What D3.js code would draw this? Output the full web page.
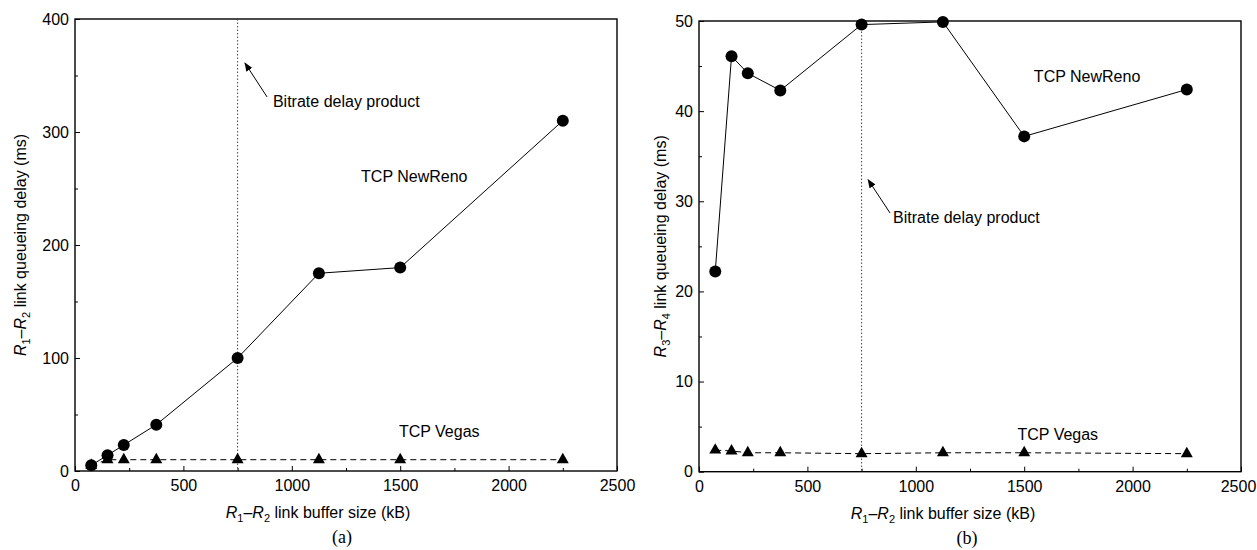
<!DOCTYPE html>
<html>
<head>
<meta charset="utf-8">
<script src="https://cdn.jsdelivr.net/npm/d3@7"></script>
<style>
  body { margin: 0; background: white; }
  text { font-family: "Liberation Sans", Arial, sans-serif; }
</style>
</head>
<body>
<script>

// buffer sizes (kB) used in both panels
var bufferSizes = [75, 150, 225, 375, 750, 1125, 1500, 2250];
var bitrateDelayProduct = 750;

// panel (a): R1-R2 link queueing delay (ms)
var renoA = [5, 14, 23, 41, 100, 175, 180, 310];
var vegasA = [5, 10, 10, 10, 10, 10, 10, 10];

// panel (b): R3-R4 link queueing delay (ms)
var renoB = [22.2, 46.1, 44.2, 42.3, 49.6, 49.9, 37.2, 42.4];
var vegasB = [2.4, 2.3, 2.1, 2.1, 2.0, 2.1, 2.1, 2.0];

var xTicks = [0, 500, 1000, 1500, 2000, 2500];
var yTicksA = [0, 100, 200, 300, 400];
var yTicksB = [0, 10, 20, 30, 40, 50];

var svg = d3.select("body").append("svg")
    .attr("width", 1257)
    .attr("height", 550);

var defs = svg.append("defs");
defs.append("marker")
    .attr("id", "arrow")
    .attr("viewBox", "0 0 10 10")
    .attr("refX", 9).attr("refY", 5)
    .attr("markerWidth", 9).attr("markerHeight", 9)
    .attr("markerUnits", "userSpaceOnUse")
    .attr("orient", "auto")
  .append("path")
    .attr("d", "M0,1 L10,5 L0,9 Z")
    .attr("fill", "black");

function drawPanel(p) {

  var x = d3.scaleLinear().domain([0, 2500]).range([p.left, p.right]);
  var y = d3.scaleLinear().domain([0, p.yMax]).range([p.bottom, p.top]);

  var g = svg.append("g");

  // frame
  g.append("rect")
      .attr("x", p.left).attr("y", p.top)
      .attr("width", p.right - p.left).attr("height", p.bottom - p.top)
      .attr("fill", "none").attr("stroke", "black").attr("stroke-width", 1.4);

  // minor ticks
  g.append("g")
      .attr("transform", "translate(0," + p.bottom + ")")
      .call(d3.axisBottom(x).tickValues(d3.range(250, 2500, 500)).tickSize(-3).tickFormat(""))
      .call(function(s){ s.select(".domain").remove(); });
  g.append("g")
      .attr("transform", "translate(" + p.left + ",0)")
      .call(d3.axisLeft(y).tickValues(d3.range(p.yStep / 2, p.yMax, p.yStep)).tickSize(-3).tickFormat(""))
      .call(function(s){ s.select(".domain").remove(); });

  // major ticks
  var xAxis = g.append("g")
      .attr("transform", "translate(0," + p.bottom + ")")
      .call(d3.axisBottom(x).tickValues(xTicks).tickFormat(d3.format("d"))
        .tickSizeInner(-5).tickSizeOuter(0).tickPadding(9));
  var yAxis = g.append("g")
      .attr("transform", "translate(" + p.left + ",0)")
      .call(d3.axisLeft(y).tickValues(p.yTicks).tickFormat(d3.format("d"))
        .tickSizeInner(-5).tickSizeOuter(0).tickPadding(6));

  [xAxis, yAxis].forEach(function(a){
    a.select(".domain").remove();
    a.selectAll("text").style("font-size", "16px").style("font-family", "Liberation Sans, Arial, sans-serif").attr("fill", "black");
  });
  g.selectAll(".tick line").attr("stroke", "black");
  // last x label sits at the page edge
  xAxis.selectAll(".tick text").filter(function(d){ return d === 2500; }).attr("dx", p.lastDx);

  // bitrate delay product line
  g.append("line")
      .attr("x1", x(bitrateDelayProduct)).attr("x2", x(bitrateDelayProduct))
      .attr("y1", p.top).attr("y2", p.bottom)
      .attr("stroke", "#333").attr("stroke-width", 0.9)
      .attr("stroke-dasharray", "1.5,2");

  var line = d3.line()
      .x(function(d){ return x(d[0]); })
      .y(function(d){ return y(d[1]); });

  var vegas = bufferSizes.map(function(b, i){ return [b, p.vegas[i]]; });
  var reno = bufferSizes.map(function(b, i){ return [b, p.reno[i]]; });

  // TCP Vegas, dashed with triangles
  g.append("path")
      .datum(vegas)
      .attr("d", line)
      .attr("fill", "none").attr("stroke", "black").attr("stroke-width", 1)
      .attr("stroke-dasharray", "6,4");
  g.selectAll(".tri")
      .data(vegas)
      .enter().append("path")
      .attr("class", "tri")
      .attr("d", d3.symbol().type(d3.symbolTriangle).size(62))
      .attr("transform", function(d){ return "translate(" + x(d[0]) + "," + y(d[1]) + ")"; })
      .attr("fill", "black");

  // TCP NewReno, solid with circles
  g.append("path")
      .datum(reno)
      .attr("d", line)
      .attr("fill", "none").attr("stroke", "black").attr("stroke-width", 1);
  g.selectAll(".dot")
      .data(reno)
      .enter().append("circle")
      .attr("class", "dot")
      .attr("cx", function(d){ return x(d[0]); })
      .attr("cy", function(d){ return y(d[1]); })
      .attr("r", 6)
      .attr("fill", "black");

  // annotations
  g.append("line")
      .attr("x1", x(p.arrow[0])).attr("y1", y(p.arrow[1]))
      .attr("x2", x(p.arrow[2])).attr("y2", y(p.arrow[3]))
      .attr("stroke", "black").attr("stroke-width", 1)
      .attr("marker-end", "url(#arrow)");
  g.append("text")
      .attr("x", x(p.bdpText[0])).attr("y", y(p.bdpText[1]))
      .attr("dy", "0.35em")
      .style("font-size", "16px")
      .text("Bitrate delay product");

  g.append("text")
      .attr("x", x(p.renoText[0])).attr("y", y(p.renoText[1]))
      .attr("dy", "0.35em").attr("text-anchor", "middle")
      .style("font-size", "16px")
      .text("TCP NewReno");
  g.append("text")
      .attr("x", x(p.vegasText[0])).attr("y", y(p.vegasText[1]))
      .attr("dy", "0.35em").attr("text-anchor", "middle")
      .style("font-size", "16px")
      .text("TCP Vegas");

  // axis titles with italic R and subscripts
  var xl = g.append("text")
      .attr("x", p.xLabelX).attr("y", p.bottom + 47)
      .attr("text-anchor", "middle")
      .style("font-size", "16px");
  xl.append("tspan").style("font-style", "italic").text("R");
  xl.append("tspan").attr("dy", 4).style("font-size", "11px").text("1");
  xl.append("tspan").attr("dy", -4).text("\u2013");
  xl.append("tspan").style("font-style", "italic").text("R");
  xl.append("tspan").attr("dy", 4).style("font-size", "11px").text("2");
  xl.append("tspan").attr("dy", -4).text(" link buffer size (kB)");

  var yc = (p.top + p.bottom) / 2;
  var yl = g.append("text")
      .attr("transform", "translate(" + p.yLabelX + "," + yc + ") rotate(-90)")
      .attr("text-anchor", "middle")
      .style("font-size", "16px");
  yl.append("tspan").style("font-style", "italic").text("R");
  yl.append("tspan").attr("dy", 4).style("font-size", "11px").text(p.sub[0]);
  yl.append("tspan").attr("dy", -4).text("\u2013");
  yl.append("tspan").style("font-style", "italic").text("R");
  yl.append("tspan").attr("dy", 4).style("font-size", "11px").text(p.sub[1]);
  yl.append("tspan").attr("dy", -4).text(" link queueing delay (ms)");

  g.append("text")
      .attr("x", p.captionX).attr("y", p.bottom + 72)
      .attr("text-anchor", "middle")
      .style("font-family", "Liberation Serif, Times New Roman, serif")
      .style("font-size", "18px")
      .text(p.caption);
}

drawPanel({
  left: 75, right: 617, top: 19, bottom: 471,
  yMax: 400, yStep: 100, yTicks: yTicksA,
  reno: renoA, vegas: vegasA,
  arrow: [886, 331, 784, 361],
  bdpText: [913, 327],
  renoText: [1565, 261],
  vegasText: [1680, 35],
  xLabelX: 318, yLabelX: 26, sub: ["1", "2"],
  captionX: 342, caption: "(a)", lastDx: 0
});

drawPanel({
  left: 699, right: 1241, top: 21, bottom: 471.7,
  yMax: 50, yStep: 10, yTicks: yTicksB,
  reno: renoB, vegas: vegasB,
  arrow: [881, 28.7, 780, 32.4],
  bdpText: [895, 28.2],
  renoText: [1790, 43.8],
  vegasText: [1655, 4.1],
  xLabelX: 943, yLabelX: 666, sub: ["3", "4"],
  captionX: 967, caption: "(b)", lastDx: -3
});

</script>
</body>
</html>
